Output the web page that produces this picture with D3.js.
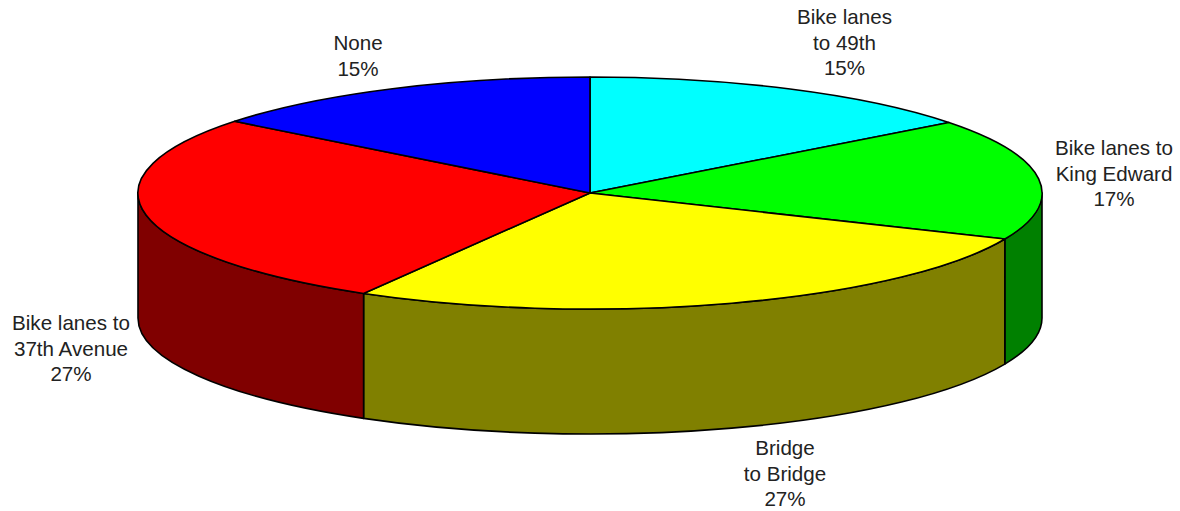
<!DOCTYPE html>
<html>
<head>
<meta charset="utf-8">
<script src="https://cdn.jsdelivr.net/npm/d3@7"></script>
<style>
  html, body { margin: 0; padding: 0; background: #fff; overflow: hidden; }
  text { font-family: "Liberation Sans", Arial, sans-serif; font-size: 20.6px; fill: #222; }
</style>
</head>
<body>
<div id="chart"></div>
<script>
const categories = ['Bike lanes to 49th', 'Bike lanes to King Edward', 'Bridge to Bridge', 'Bike lanes to 37th Avenue', 'None'];
const shares = [14.6, 16.9, 26.85, 27.25, 14.4];
const percentLabels = ['15%', '17%', '27%', '27%', '15%']; // as printed
const topColors = ['#00ffff', '#00ff00', '#ffff00', '#ff0000', '#0000ff'];
const sideColors = ['#008080', '#008000', '#808000', '#800000', '#000080'];
const labelLines = [
    ['Bike lanes', 'to 49th'],
    ['Bike lanes to', 'King Edward'],
    ['Bridge', 'to Bridge'],
    ['Bike lanes to', '37th Avenue'],
    ['None']
];

const width = 1180, height = 511;
const cx = 590, cy = 193, rx = 452, ry = 116, depth = 125; // pie ellipse
const strokeW = 1.6;

const svg = d3.select('#chart').append('svg')
    .attr('width', width)
    .attr('height', height);

const slices = d3.pie().sort(null)(shares);

// angle is clockwise from 12 o'clock, same as d3.pie
const px = a => cx + rx * Math.sin(a);
const py = a => cy - ry * Math.cos(a);

// Side walls, only the front half of the ellipse shows
const front = slices
    .map((d, i) => ({ i, a0: Math.max(d.startAngle, Math.PI / 2), a1: Math.min(d.endAngle, 3 * Math.PI / 2) }))
    .filter(d => d.a1 > d.a0);

svg.append('g')
    .selectAll('path')
    .data(front)
    .enter().append('path')
    .attr('d', d => `M${px(d.a0)},${py(d.a0)} A${rx},${ry} 0 0 1 ${px(d.a1)},${py(d.a1)} L${px(d.a1)},${py(d.a1) + depth} A${rx},${ry} 0 0 0 ${px(d.a0)},${py(d.a0) + depth} Z`)
    .attr('fill', d => sideColors[d.i])
    .attr('stroke', '#000')
    .attr('stroke-width', strokeW)
    .attr('stroke-linejoin', 'round');

// Top face, unit arc squashed into the ellipse
const arc = d3.arc().innerRadius(0).outerRadius(1);

svg.append('g')
    .attr('transform', `translate(${cx},${cy}) scale(${rx},${ry})`)
    .selectAll('path')
    .data(slices)
    .enter().append('path')
    .attr('d', arc)
    .attr('fill', (d, i) => topColors[i])
    .attr('stroke', '#000')
    .attr('stroke-width', strokeW)
    .attr('vector-effect', 'non-scaling-stroke')
    .attr('stroke-linejoin', 'round');

// Labels: centre x and first baseline of each block
const labelPos = [[844.5, 24], [1114, 155], [785, 455], [71, 330], [358, 50]];
const lineH = 25.5;

const labels = svg.append('g')
    .selectAll('text')
    .data(slices)
    .enter().append('text')
    .attr('text-anchor', 'middle')
    .attr('transform', (d, i) => `translate(${labelPos[i][0]},${labelPos[i][1]})`);

labels.each(function(d, i) {
    const lines = labelLines[i].concat([percentLabels[i]]);
    d3.select(this).selectAll('tspan')
        .data(lines)
        .enter().append('tspan')
        .attr('x', 0)
        .attr('y', (l, j) => j * lineH)
        .text(l => l);
});
</script>
</body>
</html>
